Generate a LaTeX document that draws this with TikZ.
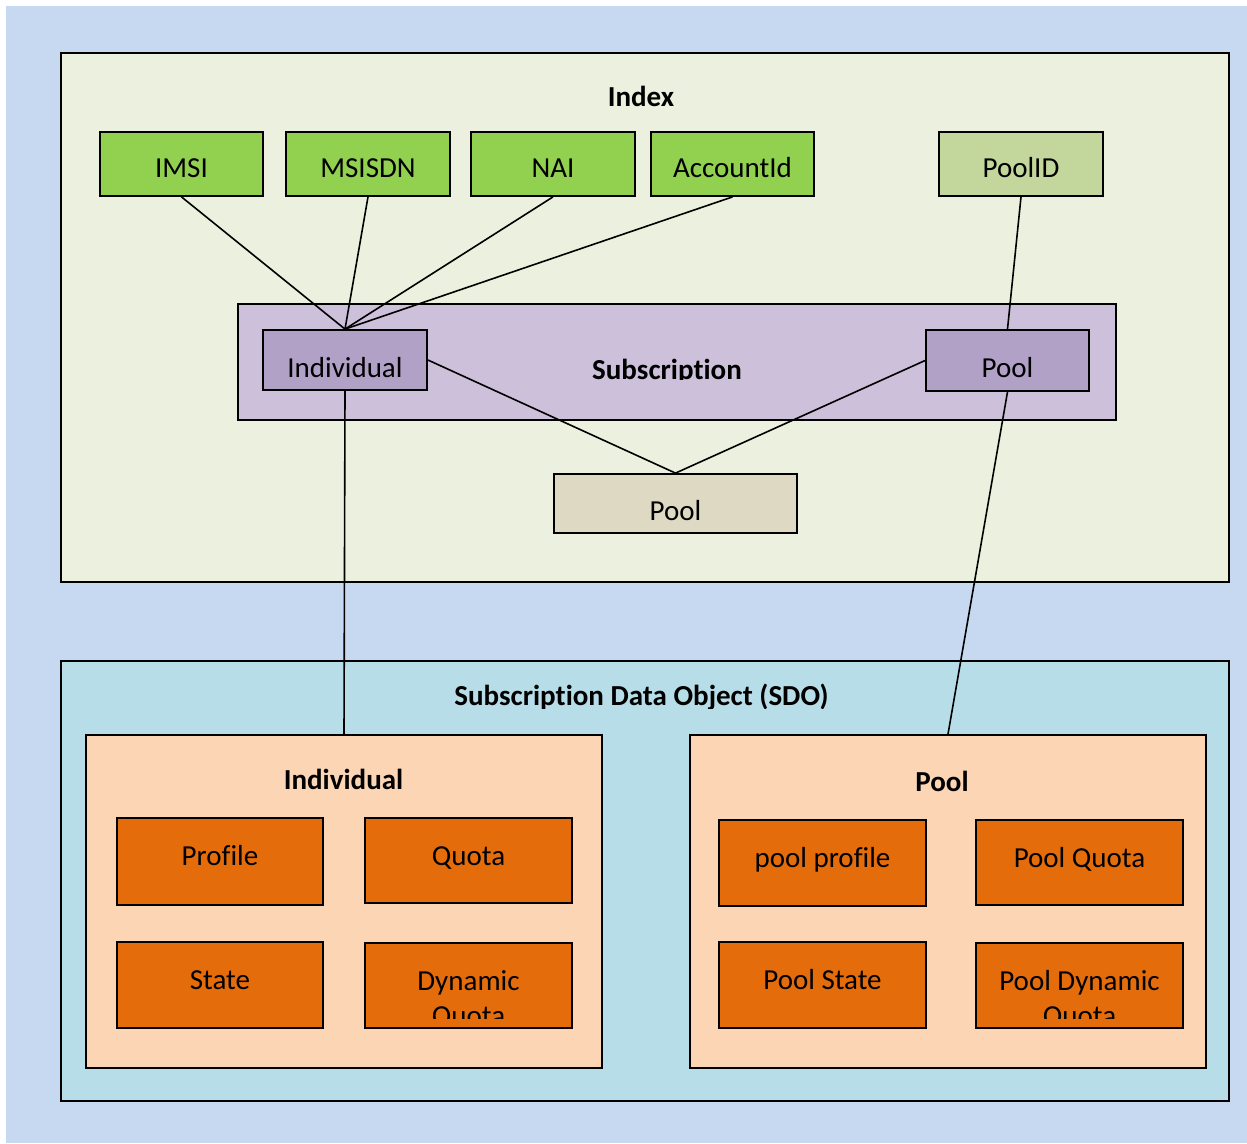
\documentclass[tikz,border=0pt]{standalone}
\usepackage{fontspec}
\setmainfont[Ligatures={NoCommon,NoRare}]{Carlito}
\definecolor{bgblue}{HTML}{C6D9F1}
\definecolor{idxfill}{HTML}{EBF1DE}
\definecolor{keygreen}{HTML}{92D050}
\definecolor{poolidfill}{HTML}{C3D69B}
\definecolor{subfill}{HTML}{CCC0DA}
\definecolor{purplefill}{HTML}{B2A1C7}
\definecolor{tanfill}{HTML}{DDD9C3}
\definecolor{sdofill}{HTML}{B7DEE8}
\definecolor{peachfill}{HTML}{FCD5B5}
\definecolor{orangefill}{HTML}{E46C0A}
\begin{document}
\begin{tikzpicture}[x=1pt,y=-1pt,
  box/.style={draw=black, line width=1.8pt, rectangle, inner sep=0pt,
    font=\fontsize{29}{35}\selectfont},
  tb/.style={text height=#1, text depth=0pt},
  conn/.style={line width=1.6pt, draw=black},
  title/.style={font=\fontsize{29}{35}\selectfont\bfseries, inner sep=0pt, anchor=base},
  keybox/.style={box, fill=keygreen, minimum width=163pt, minimum height=64pt, tb=27.4pt},
  orangebox/.style={box, fill=orangefill, minimum width=207pt, minimum height=86pt},
  twoline/.style={inner sep=0pt, anchor=base}]
\useasboundingbox (0,0) rectangle (1247,1143);
\fill[white] (0,0) rectangle (1247,1143);
\fill[bgblue] (6,6) rectangle (1247,1143);

% Index area
\node[box, fill=idxfill, minimum width=1168pt, minimum height=529pt] (idx) at (645,317.5) {};
\node[title] (idxt) at (641,106.7) {Index};

\node[keybox] (imsi) at (181.5,164) {IMSI};
\node[keybox, minimum width=164pt] (msisdn) at (368,164) {MSISDN};
\node[keybox, minimum width=164pt] (nai) at (553,164) {NAI};
\node[keybox] (acc) at (732.5,164) {AccountId};
\node[keybox, fill=poolidfill, minimum width=164pt] (poolid) at (1021,164) {PoolID};

\node[box, fill=subfill, minimum width=878pt, minimum height=116pt] (sub) at (677,362) {};
\begin{scope}
  \clip (238,304) rectangle (1116,379.5);
  \node[title] (subt) at (667,379.3) {Subscription};
\end{scope}
\node[box, fill=purplefill, minimum width=164pt, minimum height=60pt, tb=34.6pt] (indp) at (345,360) {Individual};
\node[box, fill=purplefill, minimum width=163pt, minimum height=61pt, tb=33.6pt] (poolp) at (1007.5,360.5) {Pool};
\node[box, fill=tanfill, minimum width=243pt, minimum height=59pt, tb=33pt] (tan) at (675.5,503.5) {Pool};

% SDO area
\node[box, fill=sdofill, minimum width=1168pt, minimum height=440pt] (sdo) at (645,881) {};
\begin{scope}
  \clip (61,661) rectangle (1229,708.3);
  \node[title] (sdot) at (641.5,705.3) {Subscription Data Object (SDO)};
\end{scope}

\node[box, fill=peachfill, minimum width=516pt, minimum height=333pt] (sind) at (344,901.5) {};
\node[title] (sindt) at (343.5,789.5) {Individual};
\node[box, fill=peachfill, minimum width=516pt, minimum height=333pt] (spool) at (948,901.5) {};
\node[title] (spoolt) at (942,791) {Pool};

\node[orangebox, minimum width=206pt, minimum height=87pt, tb=8pt] (profile) at (220,861.5) {Profile};
\node[orangebox, minimum height=85pt, tb=10pt] (quota) at (468.5,860.5) {Quota};
\node[orangebox, minimum width=206pt, tb=9pt] (state) at (220,985) {State};
\node[orangebox, minimum height=85pt] (dynq) at (468.5,985.5) {};
\begin{scope}
  \clip (366,944) rectangle (571,1018);
  \node[twoline] (dynqt) at (468.5,990.5) {\parbox[t]{200pt}{\centering\fontsize{29}{35}\selectfont Dynamic\\Quota}};
\end{scope}

\node[orangebox, tb=9pt] (pprof) at (822.5,863) {pool profile};
\node[orangebox, minimum height=85pt, tb=10pt] (pquota) at (1079.5,862.5) {Pool Quota};
\node[orangebox, tb=9pt] (pstate) at (822.5,985) {Pool State};
\node[orangebox, minimum height=85pt] (pdynq) at (1079.5,985.5) {};
\begin{scope}
  \clip (977,944) rectangle (1182,1018);
  \node[twoline] (pdynqt) at (1079.5,990.5) {\parbox[t]{200pt}{\centering\fontsize{29}{35}\selectfont Pool Dynamic\\Quota}};
\end{scope}

% connectors
\draw[conn] (imsi.south) -- (indp.north);
\draw[conn] (msisdn.south) -- (indp.north);
\draw[conn] (nai.south) -- (indp.north);
\draw[conn] (acc.south) -- (indp.north);
\draw[conn] (poolid.south) -- (poolp.north);
\draw[conn] (indp.east) -- (tan.north);
\draw[conn] (poolp.west) -- (tan.north);
\draw[conn] (indp.south) -- (sind.north);
\draw[conn] (poolp.south) -- (spool.north);
\end{tikzpicture}
\end{document}
